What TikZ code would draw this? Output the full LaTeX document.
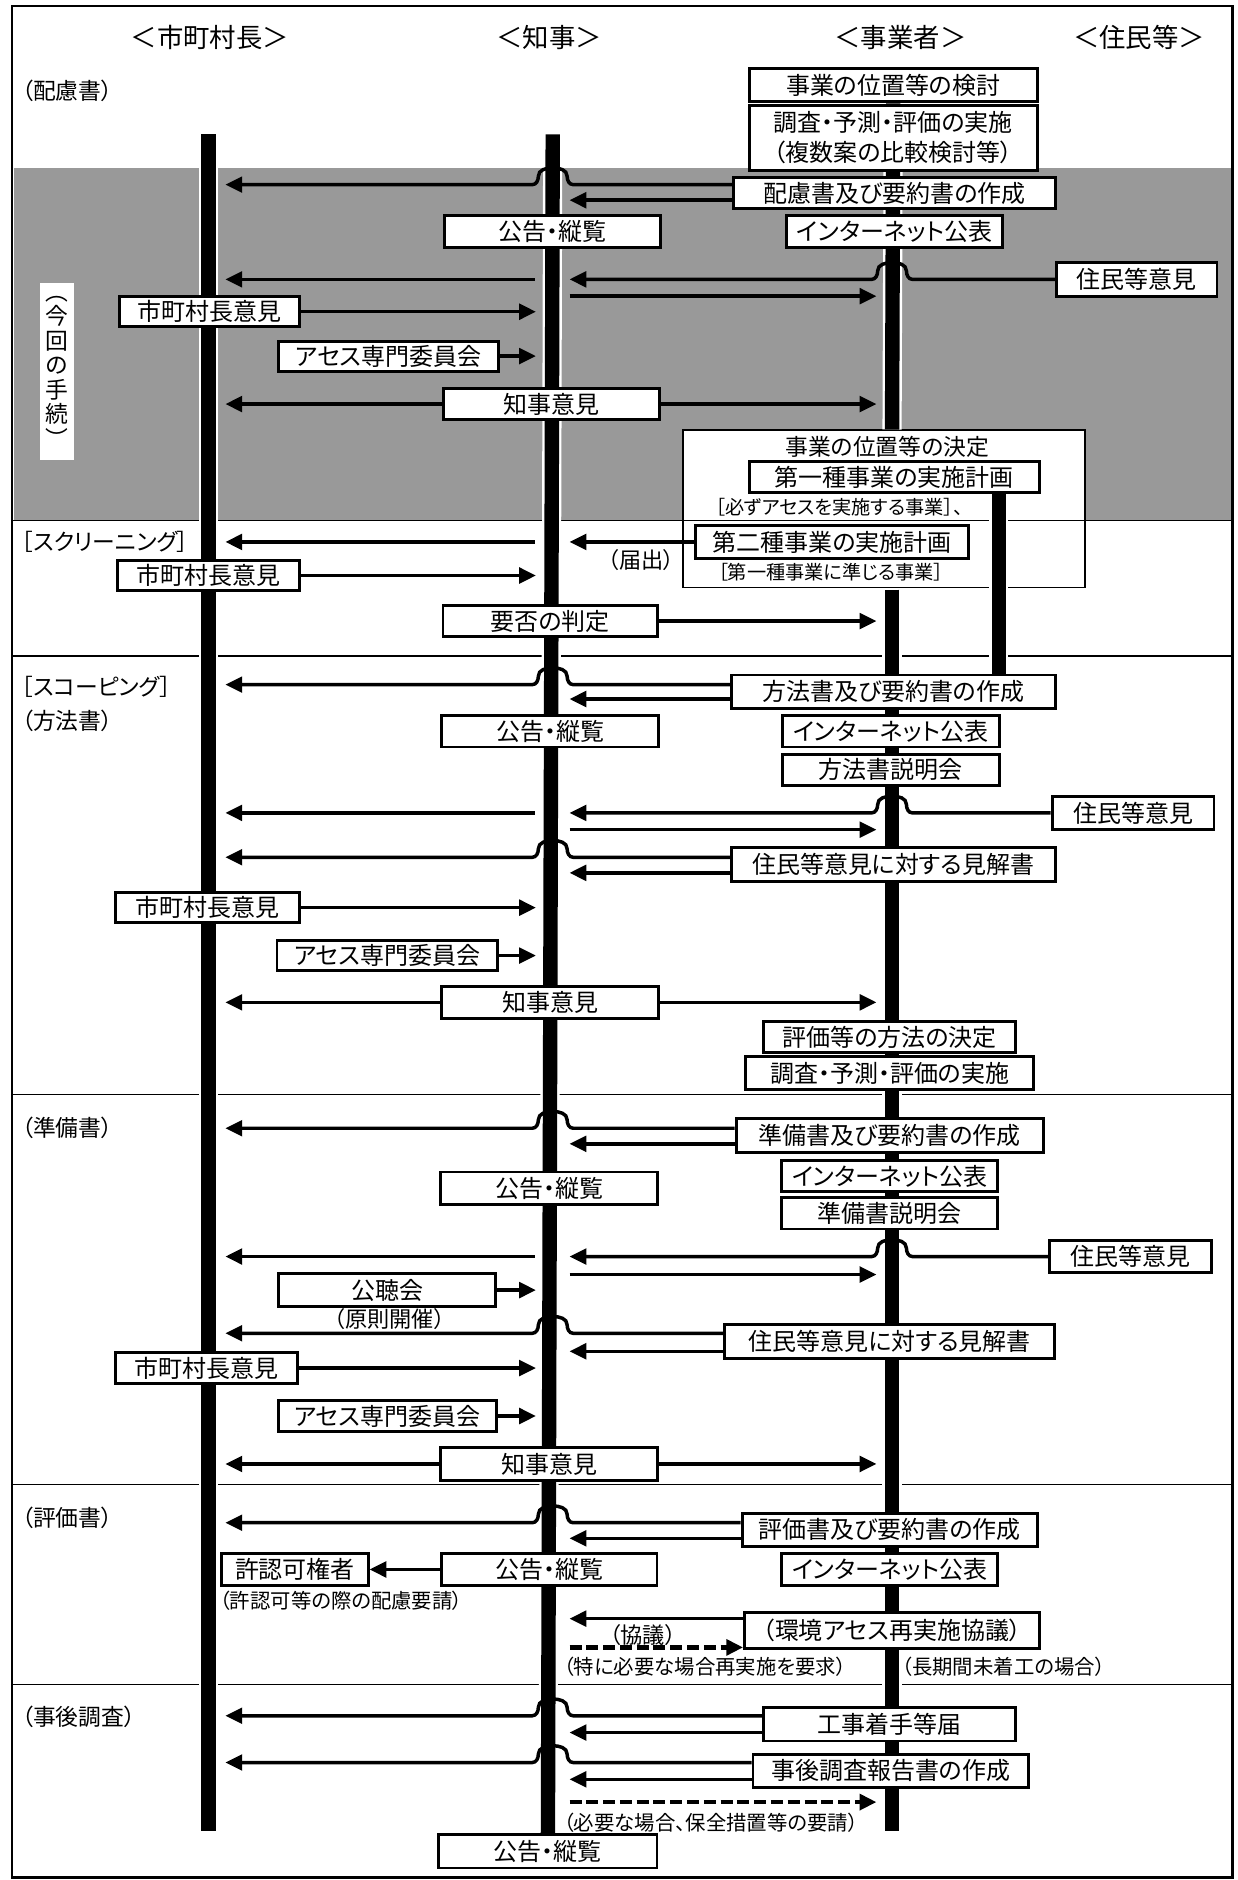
\documentclass[tikz,border=0pt]{standalone}
\usepackage{fontspec}
\setmainfont{Noto Sans CJK JP}[RawFeature=+palt]
\usetikzlibrary{arrows.meta,calc,backgrounds}
\tikzset{
  bx/.style={draw,line width=2.4pt,fill=white,inner sep=0pt,minimum height=27pt,font=\fontsize{20}{24}\selectfont},
  lbl/.style={inner sep=0pt,font=\fontsize{19}{22}\selectfont},
  mid/.style={inner sep=0pt,font=\fontsize{18.5}{21}\selectfont},
  small/.style={inner sep=0pt,font=\fontsize{17}{20}\selectfont},
  tiny/.style={inner sep=0pt,font=\fontsize{16}{19}\selectfont},
  hdr/.style={inner sep=0pt,font=\fontsize{22}{26}\selectfont},
  conn/.style={line width=2.9pt,-{Triangle[length=14pt,width=13pt]}},
  dconn/.style={line width=3.6pt,dash pattern=on 10pt off 4pt,-{Triangle[length=14pt,width=13pt]}},
  life/.style={preaction={draw=white,line width=16pt},draw=black,line width=12pt},
  sep/.style={line width=1.3pt},
}
\newcommand\hump{to[out=180,in=-90] ++(-5,-7) to[out=90,in=0] ++(-12,-7) to[out=180,in=90] ++(-12,7) to[out=-90,in=0] ++(-5,7)}
\newcommand\hopone[2]{\path (#1.west) ++(0,#2) coordinate (tmp);
  \draw[conn] (tmp) -- (tmp -| L2h) \hump -- (tmp -| L1r);}
\newcommand\toktwo[2]{\path (#1.west) ++(0,#2) coordinate (tmp);
  \draw[conn] (tmp) -- (tmp -| L2r);}
\begin{document}
\begin{tikzpicture}[x=1pt,y=-1pt]
\useasboundingbox (0,0) rectangle (1032,1568);
% lifeline reference coordinates
\coordinate (L1) at (174,0); \coordinate (L1r) at (188,0);
\coordinate (L2l) at (447,0); \coordinate (L2) at (461,0); \coordinate (L2r) at (475,0); \coordinate (L2h) at (478,0);
\coordinate (L3l) at (731,0); \coordinate (L3) at (744,0); \coordinate (L3h) at (761,0);
\coordinate (L4) at (833,0);

% frame
\draw[line width=2.4pt] (10,5) rectangle (1028,1566);

% headers
\node[hdr] (h1) at (175,31) {＜市町村長＞};
\node[hdr] (h2) at (458,31) {＜知事＞};
\node[hdr] (h3) at (751,31) {＜事業者＞};
\node[hdr] (h4) at (950,31) {＜住民等＞};

% section labels
\node[lbl,anchor=west] (s1) at (18,76) {（配慮書）};
\node[lbl,anchor=west] (s2) at (18,452) {［スクリーニング］};
\node[lbl,anchor=west] (s3) at (18,573) {［スコーピング］};
\node[lbl,anchor=west] (s4) at (18,601) {（方法書）};
\node[lbl,anchor=west] (s5) at (18,941) {（準備書）};
\node[lbl,anchor=west] (s6) at (18,1266) {（評価書）};
\node[lbl,anchor=west] (s7) at (18,1432) {（事後調査）};

\node[fill=white,inner sep=0pt,minimum width=29pt,minimum height=148pt,align=center,font=\fontsize{19}{20.5}\selectfont] (v1) at (47.5,310) {︵\\今\\回\\の\\手\\続\\︶};

% 配慮書
\node[bx,minimum width=240pt,minimum height=28pt] (b1) at (745,71) {事業の位置等の検討};
\node[bx,minimum width=240pt,minimum height=54pt,align=center,font=\fontsize{20}{25}\selectfont] (b2) at (745,115) {調査・予測・評価の実施\\（複数案の比較検討等）};
\node[bx,minimum width=268pt,minimum height=26pt] (b3) at (746,161) {配慮書及び要約書の作成};
\node[bx,minimum width=180pt] (b4) at (746,193) {インターネット公表};
\node[bx,minimum width=180pt] (b5) at (461,193) {公告・縦覧};
\node[bx,minimum width=134pt,minimum height=28pt] (b6) at (948,233) {住民等意見};
\node[bx,minimum width=150pt,minimum height=25pt] (b7) at (175,260) {市町村長意見};
\node[bx,minimum width=183pt,minimum height=25pt] (b8) at (324,297) {アセス専門委員会};
\node[bx,minimum width=180pt,minimum height=26pt] (b9) at (460,337) {知事意見};

% screening
\node[lbl] (b10) at (740,373) {事業の位置等の決定};
\node[bx,minimum width=242pt,minimum height=26pt] (b11) at (746,398) {第一種事業の実施計画};
\node[tiny] (t1) at (700,423) {［必ずアセスを実施する事業］、};
\node[bx,minimum width=228pt] (b12) at (694,452) {第二種事業の実施計画};
\node[tiny] (t2) at (693,477) {［第一種事業に準じる事業］};
\node[mid] (t3) at (535,467) {（届出）};
\node[bx,minimum width=152pt,minimum height=25pt] (b13) at (174,480) {市町村長意見};
\node[bx,minimum width=179pt,minimum height=26pt] (b14) at (459,518) {要否の判定};

% scoping
\node[bx,minimum width=270pt,minimum height=28pt] (b15) at (745,577) {方法書及び要約書の作成};
\node[bx,minimum width=181pt,minimum height=26pt] (b16) at (459,610) {公告・縦覧};
\node[bx,minimum width=181pt,minimum height=26pt] (b17) at (743,610) {インターネット公表};
\node[bx,minimum width=181pt,minimum height=26pt] (b18) at (743,642) {方法書説明会};
\node[bx,minimum width=135pt] (b19) at (945,678) {住民等意見};
\node[bx,minimum width=270pt,minimum height=28pt] (b20) at (745,721) {住民等意見に対する見解書};
\node[bx,minimum width=154pt,minimum height=25pt] (b21) at (173,757) {市町村長意見};
\node[bx,minimum width=184pt,minimum height=25pt] (b22) at (323,797) {アセス専門委員会};
\node[bx,minimum width=181pt] (b23) at (459,836) {知事意見};
\node[bx,minimum width=210pt,minimum height=26pt] (b24) at (742,865) {評価等の方法の決定};
\node[bx,minimum width=240pt,minimum height=28pt] (b25) at (742,895) {調査・予測・評価の実施};

% 準備書
\node[bx,minimum width=256pt,minimum height=28pt] (b26) at (742,947) {準備書及び要約書の作成};
\node[bx,minimum width=180pt,minimum height=26pt] (b27) at (742,981) {インターネット公表};
\node[bx,minimum width=181pt] (b28) at (458,991) {公告・縦覧};
\node[bx,minimum width=180pt,minimum height=26pt] (b29) at (742,1012) {準備書説明会};
\node[bx,minimum width=135pt] (b30) at (943,1048) {住民等意見};
\node[bx,minimum width=181pt] (b31) at (323,1076) {公聴会};
\node[mid] (t4) at (325,1100) {（原則開催）};
\node[bx,minimum width=275pt,minimum height=28pt] (b32) at (742,1119) {住民等意見に対する見解書};
\node[bx,minimum width=152pt,minimum height=26pt] (b33) at (172,1141) {市町村長意見};
\node[bx,minimum width=182pt,minimum height=26pt] (b34) at (323,1181) {アセス専門委員会};
\node[bx,minimum width=181pt] (b35) at (458,1221) {知事意見};

% 評価書
\node[bx,minimum width=246pt,minimum height=28pt] (b36) at (742,1276) {評価書及び要約書の作成};
\node[bx,minimum width=180pt] (b37) at (458,1309) {公告・縦覧};
\node[bx,minimum width=180pt] (b38) at (742,1309) {インターネット公表};
\node[bx,minimum width=122pt] (b39) at (246,1309) {許認可権者};
\node[small,anchor=west] (t5) at (183,1335) {（許認可等の際の配慮要請）};
\node[bx,minimum width=246pt,minimum height=30pt] (b40) at (744,1360) {（環境アセス再実施協議）};
\node[mid] (t6) at (536,1364) {（協議）};
\node[small,anchor=west] (t7) at (470,1390) {（特に必要な場合再実施を要求）};
\node[small,anchor=west] (t8) at (752,1390) {（長期間未着工の場合）};

% 事後調査
\node[bx,minimum width=210pt,minimum height=28pt] (b41) at (742,1438) {工事着手等届};
\node[bx,minimum width=230pt,minimum height=28pt] (b42) at (743,1477) {事後調査報告書の作成};
\node[small,anchor=west] (t9) at (470,1520) {（必要な場合、保全措置等の要請）};
\node[bx,minimum width=182pt,minimum height=28pt] (b43) at (457,1544) {公告・縦覧};

\begin{scope}[on background layer]
  \fill[black!40] (12,140) rectangle (1027,434);
  \node[draw,line width=1.6pt,fill=white,inner sep=0pt,minimum width=335pt,minimum height=131pt] (bb) at (737.5,424.5) {};
  \foreach \yy in {434,547,913,1238,1405} \draw[sep] (11,\yy) -- (1027,\yy);
  \coordinate (L1t) at (174,112); \coordinate (L1b) at (174,1527);
  \coordinate (L2t) at (461,112);
  \coordinate (L3b) at (744,1527);
  \draw[life] (L1t) -- (L1b);
  \draw[life] (L2t) -- (b43.north);
  \draw[life] (b1.south) -- (bb.north -| L3);
  \draw[life] ([yshift=-1pt]bb.south -| L3) -- (L3b);
  \draw[life] (b11.south -| L4) -- (b15.north -| L4);
\end{scope}

% ---- connectors: 配慮書
\hopone{b3}{-7} \toktwo{b3}{6}
\coordinate (k1) at (446,233); \draw[conn] (k1) -- (k1 -| L1r);
\draw[conn] (b6.west) -- (b6.west -| L3h) \hump -- (b6.west -| L2r);
\coordinate (k2) at (475,247); \draw[conn] (k2) -- (k2 -| L3l);
\draw[conn] (b7.east) -- (b7.east -| L2l);
\draw[conn] (b8.east) -- (b8.east -| L2l);
\draw[conn] (b9.west) -- (b9.west -| L1r);
\draw[conn] (b9.east) -- (b9.east -| L3l);
% screening
\coordinate (k3) at (446,452); \draw[conn] (k3) -- (k3 -| L1r);
\draw[conn] (b12.west) -- (b12.west -| L2r);
\draw[conn] (b13.east) -- (b13.east -| L2l);
\draw[conn] (b14.east) -- (b14.east -| L3l);
% scoping
\hopone{b15}{-6} \toktwo{b15}{6}
\coordinate (k4) at (446,678); \draw[conn] (k4) -- (k4 -| L1r);
\draw[conn] (b19.west) -- (b19.west -| L3h) \hump -- (b19.west -| L2r);
\coordinate (k5) at (475,692); \draw[conn] (k5) -- (k5 -| L3l);
\hopone{b20}{-6} \toktwo{b20}{7}
\draw[conn] (b21.east) -- (b21.east -| L2l);
\draw[conn] (b22.east) -- (b22.east -| L2l);
\draw[conn] (b23.west) -- (b23.west -| L1r);
\draw[conn] (b23.east) -- (b23.east -| L3l);
% 準備書
\hopone{b26}{-6} \toktwo{b26}{7}
\coordinate (k6) at (446,1048); \draw[conn] (k6) -- (k6 -| L1r);
\draw[conn] (b30.west) -- (b30.west -| L3h) \hump -- (b30.west -| L2r);
\coordinate (k7) at (475,1063); \draw[conn] (k7) -- (k7 -| L3l);
\draw[conn] (b31.east) -- (b31.east -| L2l);
\hopone{b32}{-7} \toktwo{b32}{8}
\draw[conn] (b33.east) -- (b33.east -| L2l);
\draw[conn] (b34.east) -- (b34.east -| L2l);
\draw[conn] (b35.west) -- (b35.west -| L1r);
\draw[conn] (b35.east) -- (b35.east -| L3l);
% 評価書
\hopone{b36}{-6} \toktwo{b36}{7}
\draw[conn] (b37.west) -- (b39.east);
\toktwo{b40}{-10}
\path (b40.west) ++(0,14) coordinate (k8);
\draw[dconn] (k8 -| L2r) -- (k8);
% 事後調査
\hopone{b41}{-7} \toktwo{b41}{7}
\hopone{b42}{-7} \toktwo{b42}{7}
\coordinate (k9) at (475,1503); \draw[dconn] (k9) -- (k9 -| L3l);
\end{tikzpicture}
\end{document}
